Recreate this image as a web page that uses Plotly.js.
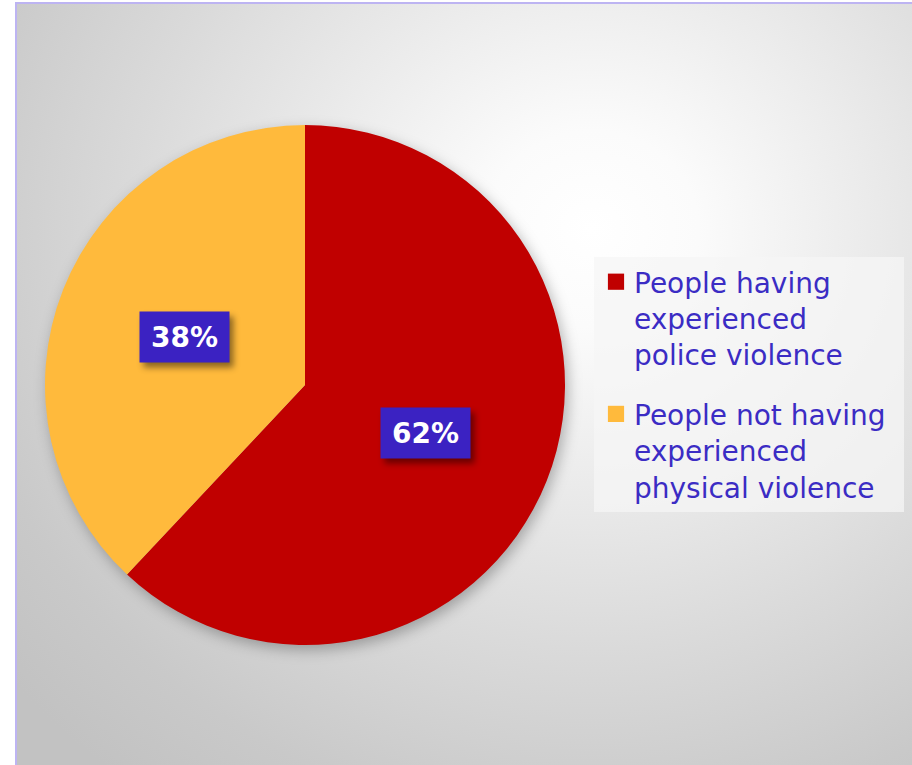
<!DOCTYPE html>
<html>
<head>
<meta charset="utf-8">
<script src="https://cdn.plot.ly/plotly-3.0.1.min.js"></script>
<style>
  html, body { margin: 0; padding: 0; background: #ffffff; overflow: hidden; }
  #frame {
    position: absolute; left: 15px; top: 2px; width: 940px; height: 820px;
    border: 2px solid #BDB4F2; box-sizing: border-box;
    background: radial-gradient(ellipse 760px 700px at 575px 225px, #ffffff 0%, #fbfbfb 14%, #ececec 35%, #dadada 60%, #c9c9c9 85%, #c2c2c2 100%);
  }
  #chart { position: absolute; left: 0; top: 0; width: 912px; height: 765px; }
  .pielayer .trace { filter: drop-shadow(3px 5px 7px rgba(0,0,0,0.28)); }
  .annotation rect.bg { filter: drop-shadow(4px 5px 3px rgba(0,0,0,0.45)); }
</style>
</head>
<body>
<div id="frame"></div>
<div id="chart"></div>
<script>
// ---- data ----
var categories = [
  "People having<br>experienced<br>police violence",
  "People not having<br>experienced<br>physical violence"
];
var values = [62, 38];
var valueLabels = ["62%", "38%"];
var sliceColors = ["#C00000", "#FFBA3C"];

// ---- layout geometry (pixels) ----
var W = 912, H = 765;
var cx = 305, cy = 385, R = 260;
var legendGap = 20;
var legendExtraWidth = 13;

var trace = {
  type: "pie",
  labels: categories,
  values: values,
  sort: false,
  direction: "clockwise",
  rotation: 0,
  textinfo: "none",
  hoverinfo: "label+percent",
  marker: { colors: sliceColors, line: { width: 0 } },
  domain: { x: [(cx - R) / W, (cx + R) / W], y: [(H - cy - R) / H, (H - cy + R) / H] }
};

// label boxes at half radius on each slice's mid-angle, derived from the values
var total = values.reduce(function (a, b) { return a + b; }, 0);
var annotations = [];
var cum = 0;
for (var i = 0; i < values.length; i++) {
  var theta = 2 * Math.PI * (cum + values[i] / 2) / total;
  cum += values[i];
  var px = cx + 0.5 * R * Math.sin(theta);
  var py = cy - 0.5 * R * Math.cos(theta);
  annotations.push({
    xref: "paper", yref: "paper",
    x: px / W, y: 1 - py / H,
    xanchor: "center", yanchor: "middle",
    text: "<b>" + valueLabels[i] + "</b>",
    showarrow: false,
    font: { family: "DejaVu Sans", size: 28, color: "#ffffff" },
    bgcolor: "#3B22C2",
    borderpad: 6,
    width: 77, height: 38
  });
}

var layout = {
  width: W, height: H,
  margin: { l: 0, r: 0, t: 0, b: 0 },
  paper_bgcolor: "rgba(0,0,0,0)",
  plot_bgcolor: "rgba(0,0,0,0)",
  showlegend: true,
  legend: {
    x: 594 / W, y: 1 - 257 / H, xanchor: "left", yanchor: "top",
    valign: "top",
    bgcolor: "rgba(246,246,246,0.75)",
    borderwidth: 0,
    font: { family: "DejaVu Sans", size: 28, color: "#3B2CC4" },
    itemclick: false, itemdoubleclick: false
  },
  annotations: annotations
};

Plotly.newPlot("chart", [trace], layout, { displayModeBar: false, staticPlot: true }).then(function (gd) {
  // add a gap between legend entries and enlarge the swatches
  var items = gd.querySelectorAll(".legend .traces");
  for (var k = 1; k < items.length; k++) {
    var tr = items[k].getAttribute("transform") || "";
    var m = /translate\(\s*([-\d.]+)[ ,]+([-\d.]+)\s*\)/.exec(tr);
    if (m) items[k].setAttribute("transform", "translate(" + m[1] + "," + (parseFloat(m[2]) + legendGap * k) + ")");
  }
  var bg = gd.querySelector(".legend rect.bg");
  if (bg) {
    bg.setAttribute("height", parseFloat(bg.getAttribute("height")) + legendGap * (items.length - 1));
    bg.setAttribute("width", parseFloat(bg.getAttribute("width")) + legendExtraWidth);
  }
  gd.querySelectorAll(".legend [clip-path]").forEach(function (el) { el.removeAttribute("clip-path"); });
  gd.querySelectorAll(".legend .legendpie").forEach(function (p) {
    p.setAttribute("transform", "translate(22,0) scale(1.35)");
  });
});
</script>
</body>
</html>
